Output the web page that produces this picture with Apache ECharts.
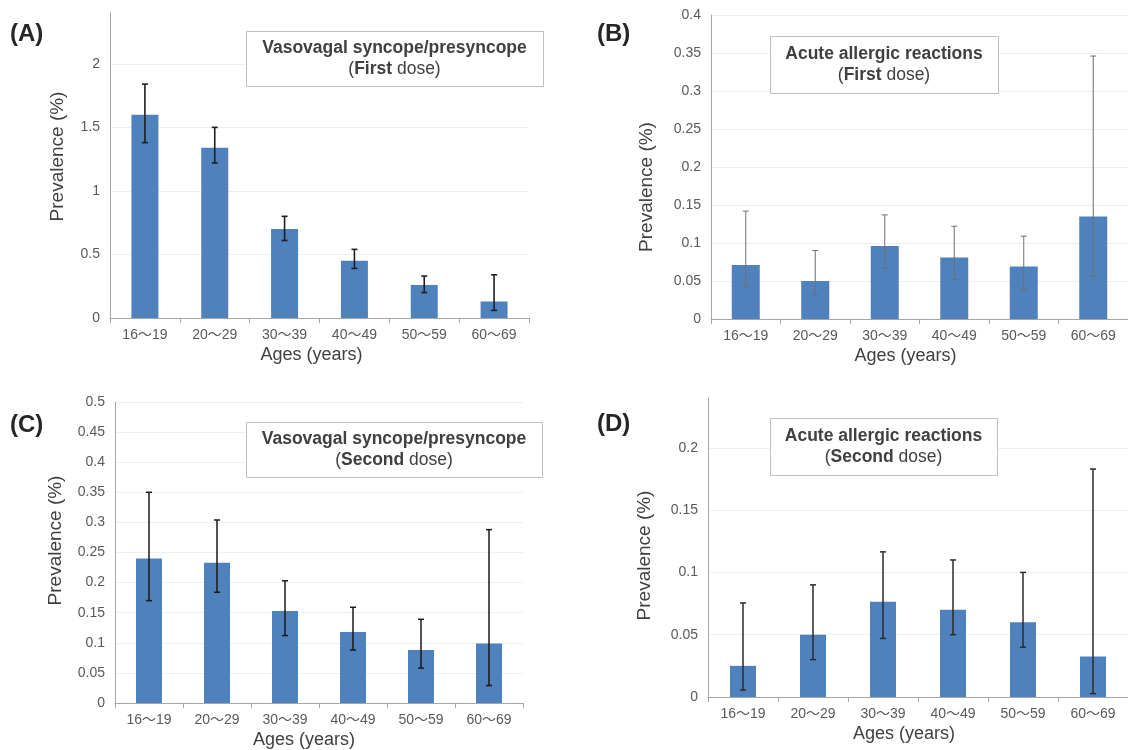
<!DOCTYPE html>
<html>
<head>
<meta charset="utf-8">
<script src="https://cdn.jsdelivr.net/npm/echarts@6.0.0/dist/echarts.min.js"></script>
<style>
  html, body { margin: 0; padding: 0; background: #fff; }
  #main { width: 1128px; height: 750px; }
</style>
</head>
<body>
<div id="main"></div>
<script>
var ages = ["16～19", "20～29", "30～39", "40～49", "50～59", "60～69"];

// (A) vasovagal, first dose
var vvsFirst = [1.6, 1.34, 0.70, 0.45, 0.26, 0.13];
var vvsFirstLow = [1.38, 1.22, 0.61, 0.39, 0.20, 0.06];
var vvsFirstHigh = [1.84, 1.50, 0.80, 0.54, 0.33, 0.34];

// (B) allergic, first dose
var allergyFirst = [0.071, 0.050, 0.096, 0.081, 0.069, 0.135];
var allergyFirstLow = [0.042, 0.031, 0.067, 0.052, 0.039, 0.056];
var allergyFirstHigh = [0.142, 0.090, 0.137, 0.122, 0.109, 0.346];

// (C) vasovagal, second dose
var vvsSecond = [0.24, 0.233, 0.153, 0.118, 0.088, 0.099];
var vvsSecondLow = [0.17, 0.184, 0.112, 0.088, 0.058, 0.029];
var vvsSecondHigh = [0.35, 0.304, 0.203, 0.159, 0.139, 0.288];

// (D) allergic, second dose
var allergySecond = [0.025, 0.050, 0.0765, 0.070, 0.060, 0.0325];
var allergySecondLow = [0.0056, 0.030, 0.047, 0.050, 0.040, 0.0027];
var allergySecondHigh = [0.0755, 0.090, 0.1165, 0.110, 0.100, 0.183];

// y axis ranges
var yMax = [2.4, 0.4, 0.5, 0.24];
var yStep = [0.5, 0.05, 0.05, 0.05];

var FONT = "Liberation Sans, Noto Sans CJK JP, sans-serif";
var BAR = "#4f81bd";

var chartDom = document.getElementById("main");
var myChart = echarts.init(chartDom);

// layout for each panel
var panels = [
  { grid: { left: 110, top: 13, width: 419, height: 305 }, bar: 27, values: vvsFirst, low: vvsFirstLow, high: vvsFirstHigh,
    err: "#1f1f1f", errW: 1.6, yGap: 43, yPad: [0, 0, 0, 18], xGap: 28, xPad: [0, 16, 0, 0], hideMax: true },
  { grid: { left: 711, top: 15, width: 420, height: 304 }, bar: 28, values: allergyFirst, low: allergyFirstLow, high: allergyFirstHigh,
    err: "#6f6f6f", errW: 1, yGap: 55, yPad: [0, 40, 0, 0], xGap: 28, xPad: [0, 28, 0, 0], hideMax: false },
  { grid: { left: 115, top: 402, width: 408, height: 301 }, bar: 26, values: vvsSecond, low: vvsSecondLow, high: vvsSecondHigh,
    err: "#1a1a1a", errW: 1.5, yGap: 50, yPad: [0, 0, 0, 24], xGap: 28, xPad: [0, 30, 0, 0], hideMax: false },
  { grid: { left: 708, top: 398, width: 426, height: 299 }, bar: 26, values: allergySecond, low: allergySecondLow, high: allergySecondHigh,
    err: "#2b2b2b", errW: 1.5, yGap: 54, yPad: [0, 16, 0, 0], xGap: 28, xPad: [0, 28, 0, 0], hideMax: true }
];

function errorBar(color, width) {
  return function (params, api) {
    var hi = api.coord([api.value(0), api.value(2)]);
    var lo = api.coord([api.value(0), api.value(1)]);
    var cap = 3;
    var style = { stroke: color, lineWidth: width };
    return {
      type: "group",
      children: [
        { type: "line", shape: { x1: hi[0], y1: hi[1], x2: lo[0], y2: lo[1] }, style: style },
        { type: "line", shape: { x1: hi[0] - cap, y1: hi[1], x2: hi[0] + cap, y2: hi[1] }, style: style },
        { type: "line", shape: { x1: lo[0] - cap, y1: lo[1], x2: lo[0] + cap, y2: lo[1] }, style: style }
      ]
    };
  };
}

var grids = [], xAxes = [], yAxes = [], series = [];

panels.forEach(function (p, k) {
  grids.push(p.grid);
  xAxes.push({
    type: "category",
    gridIndex: k,
    data: ages,
    name: "Ages (years)",
    nameLocation: "middle",
    nameGap: p.xGap,
    nameTextStyle: { color: "#404040", fontSize: 18, fontFamily: FONT, padding: p.xPad },
    axisLine: { lineStyle: { color: "#a6a6a6", width: 1 } },
    axisTick: { show: true, length: 5, lineStyle: { color: "#a6a6a6" } },
    axisLabel: { color: "#595959", fontSize: 14, margin: 10, fontFamily: FONT },
    splitLine: { show: false }
  });
  yAxes.push({
    type: "value",
    gridIndex: k,
    min: 0,
    max: yMax[k],
    interval: yStep[k],
    name: "Prevalence (%)",
    nameLocation: "middle",
    nameGap: p.yGap,
    nameTextStyle: { color: "#404040", fontSize: 19, fontFamily: FONT, padding: p.yPad },
    axisLine: { show: true, lineStyle: { color: "#a6a6a6", width: 1 } },
    axisTick: { show: false },
    axisLabel: { color: "#595959", fontSize: 14, margin: 10, fontFamily: FONT, showMaxLabel: !p.hideMax },
    splitLine: { show: true, showMaxLine: !p.hideMax, lineStyle: { color: "#efefef", width: 1 } }
  });
  series.push({
    type: "bar",
    xAxisIndex: k,
    yAxisIndex: k,
    data: p.values,
    barWidth: p.bar,
    itemStyle: { color: BAR },
    silent: true
  });
  series.push({
    type: "custom",
    xAxisIndex: k,
    yAxisIndex: k,
    renderItem: errorBar(p.err, p.errW),
    encode: { x: 0, y: [1, 2] },
    data: ages.map(function (a, i) { return [i, p.low[i], p.high[i]]; }),
    z: 5,
    silent: true
  });
});

// title boxes and panel letters
function titleBox(x, y, w, h, line1, line2) {
  return [
    { type: "rect", shape: { x: x + 0.5, y: y + 0.5, width: w, height: h },
      style: { fill: "#fff", stroke: "#bfbfbf", lineWidth: 1 }, z: 10 },
    { type: "text", x: x + w / 2, y: y + h / 2, z: 11,
      style: {
        text: "{b|" + line1 + "}\n{n|(}{b|" + line2[0] + "}{n| " + line2[1] + ")}",
        textAlign: "center", textVerticalAlign: "middle", verticalAlign: "middle",
        fill: "#404040",
        rich: {
          b: { fontSize: 17.5, fontWeight: "bold", fontFamily: FONT, lineHeight: 21, fill: "#404040", color: "#404040" },
          n: { fontSize: 17.5, fontFamily: FONT, lineHeight: 21, fill: "#404040", color: "#404040" }
        }
      } }
  ];
}

function letter(x, y, t) {
  return { type: "text", x: x, y: y, z: 11,
    style: { text: t, fontSize: 24, fontWeight: "bold", fontFamily: FONT, fill: "#262626",
      textVerticalAlign: "middle", verticalAlign: "middle" } };
}

var graphics = []
  .concat(titleBox(246, 31, 297, 55, "Vasovagal syncope/presyncope", ["First", "dose"]))
  .concat(titleBox(770, 36, 228, 57, "Acute allergic reactions", ["First", "dose"]))
  .concat(titleBox(246, 422, 296, 55, "Vasovagal syncope/presyncope", ["Second", "dose"]))
  .concat(titleBox(770, 418, 227, 57, "Acute allergic reactions", ["Second", "dose"]))
  .concat([letter(10, 34, "(A)"), letter(597, 34, "(B)"), letter(10, 425, "(C)"), letter(597, 424, "(D)")]);

var option = {
  animation: false,
  backgroundColor: "#fff",
  grid: grids,
  xAxis: xAxes,
  yAxis: yAxes,
  series: series,
  graphic: graphics
};

option && myChart.setOption(option);
</script>
</body>
</html>
